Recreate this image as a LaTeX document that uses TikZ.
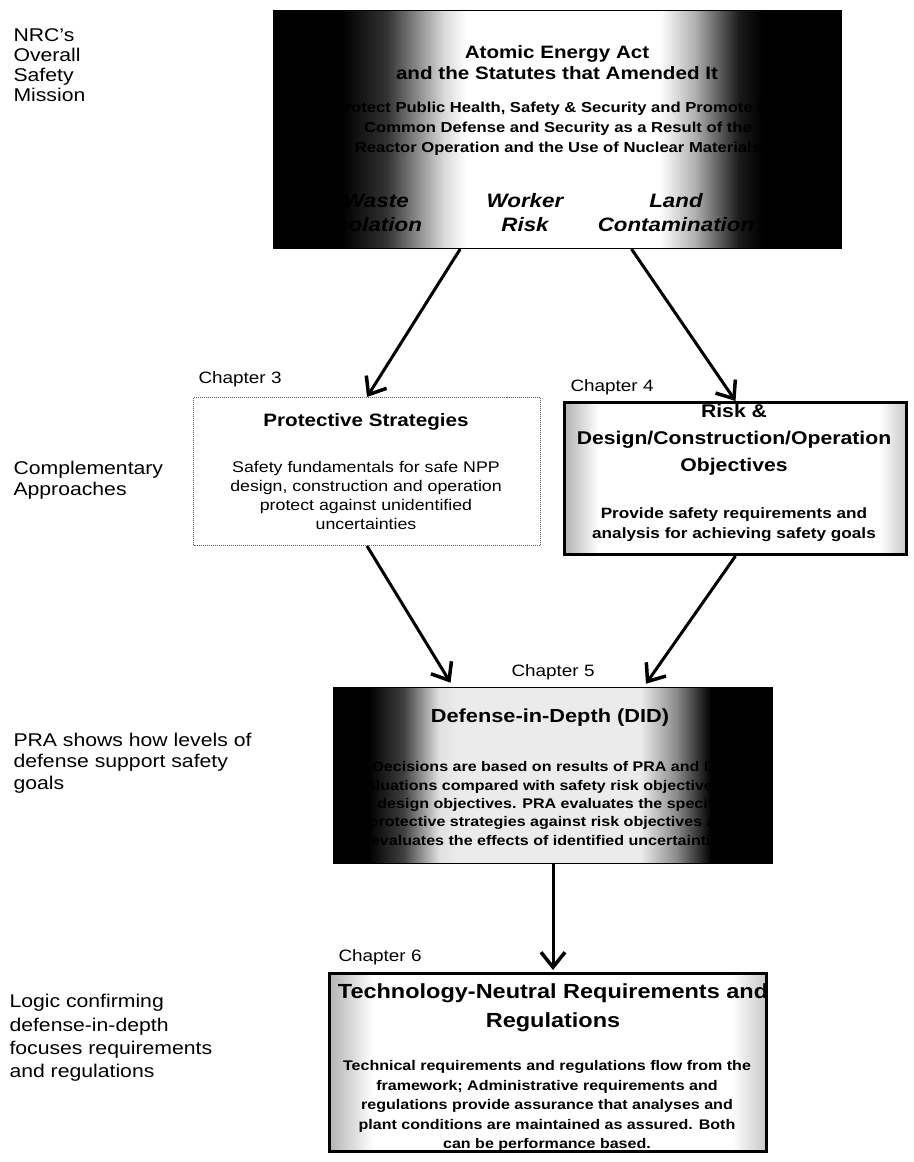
\documentclass[tikz,border=0pt]{standalone}
\usepackage{fontspec}
\setmainfont{Liberation Sans}[FakeStretch=1.15]
\usetikzlibrary{arrows.meta,calc}

% dark at both ends, white in the middle (Atomic Energy Act box)
\pgfdeclarehorizontalshading{darksidesA}{100bp}{color(0bp)=(black); color(31bp)=(black); color(35bp)=(black!80); color(40bp)=(black!15); color(42bp)=(white); color(59bp)=(white); color(62bp)=(black!30); color(66bp)=(black!90); color(68bp)=(black); color(100bp)=(black)}
% same idea for the defense-in-depth box
\pgfdeclarehorizontalshading{darksidesB}{100bp}{color(0bp)=(black); color(29bp)=(black); color(33bp)=(black!75); color(37bp)=(black!12); color(39bp)=(white!92!black); color(60bp)=(white!92!black); color(64bp)=(black!45); color(68bp)=(black); color(100bp)=(black)}
% white box whose left and right edges fade to grey
\pgfdeclarehorizontalshading{greyedges}{100bp}{color(0bp)=(black!30); color(25bp)=(black!30); color(30bp)=(white); color(71bp)=(white); color(75bp)=(black!22); color(100bp)=(black!22)}

\tikzset{
  sidelabel/.style={anchor=west, align=left, font=\fontsize{18.5}{21.5}\selectfont},
  chaplabel/.style={anchor=west, font=\fontsize{16.5}{19}\selectfont},
  darkbox/.style={draw=black, line width=1bp, inner sep=0pt},
  plainbox/.style={draw=black!65, densely dotted, line width=1bp, fill=white, inner sep=0pt},
  heavybox/.style={shading=greyedges, draw=black, line width=3bp, inner sep=0pt},
  boxtitle/.style={align=center, font=\bfseries\fontsize{18}{21}\selectfont},
  boxtext/.style={align=center, font=\bfseries\fontsize{14}{19}\selectfont},
  flow/.style={line width=3bp, -{Straight Barb[length=15bp,width=24bp,line width=3.5bp]}}
}

\begin{document}
\begin{tikzpicture}[x=1bp, y=-1bp]
\useasboundingbox (0,0) rectangle (914,1162);

% left-hand captions
\node[sidelabel, font=\fontsize{18.5}{20}\selectfont] (capmission) at (10,65) {NRC's\\Overall\\Safety\\Mission};
\node[sidelabel] (capapproach) at (10,480) {Complementary\\Approaches};
\node[sidelabel] (capdid) at (10,763) {PRA shows how levels of\\defense support safety\\goals};
\node[sidelabel, font=\fontsize{18.5}{23.5}\selectfont] (caplogic) at (6,1038) {Logic confirming\\defense-in-depth\\focuses requirements\\and regulations};

% Atomic Energy Act box
\node[darkbox, shading=darksidesA, anchor=north west, minimum width=568bp, minimum height=238bp] (aea) at (273,10) {};
\node[boxtitle, font=\bfseries\fontsize{18}{21}\selectfont] (aeatitle) at (557,62.5) {Atomic Energy Act\\and the Statutes that Amended It};
\node[boxtext, font=\bfseries\fontsize{14.5}{20}\selectfont] (aeatext) at (558,129) {Protect Public Health, Safety \& Security and  Promote the\\Common Defense and Security as a Result of the\\Reactor Operation and the Use of Nuclear Materials};
\node[boxtitle, font=\bfseries\itshape\fontsize{19.5}{24}\selectfont] (waste) at (376,213) {Waste\\Isolation};
\node[boxtitle, font=\bfseries\itshape\fontsize{19.5}{24}\selectfont] (worker) at (525,213) {Worker\\Risk};
\node[boxtitle, font=\bfseries\itshape\fontsize{19.5}{24}\selectfont] (land) at (676,213) {Land\\Contamination};

% Chapter 3
\node[plainbox, anchor=north west, minimum width=347bp, minimum height=148bp] (ch3) at (193,397) {};
\node[chaplabel] (ch3lbl) at (195,379) {Chapter 3};
\node[boxtitle] (ch3title) at (366,422) {Protective Strategies};
\node[align=center, font=\fontsize{15.5}{19}\selectfont] (ch3text) at (366,495.5) {Safety fundamentals for safe NPP\\design, construction and operation\\protect against unidentified\\uncertainties};

% Chapter 4
\node[heavybox, anchor=north west, minimum width=342bp, minimum height=152bp] (ch4) at (563,401) {};
\node[chaplabel] (ch4lbl) at (567,387) {Chapter 4};
\node[boxtitle, font=\bfseries\fontsize{18.5}{27}\selectfont] (ch4title) at (734,440) {Risk \&\\Design/Construction/Operation\\Objectives};
\node[boxtext, font=\bfseries\fontsize{15}{20}\selectfont] (ch4text) at (734,525) {Provide safety requirements and\\analysis for achieving safety goals};

% Chapter 5
\node[darkbox, shading=darksidesB, anchor=north west, minimum width=439bp, minimum height=176bp] (did) at (333,687) {};
\node[chaplabel] (didlbl) at (508,672) {Chapter 5};
\node[boxtitle, font=\bfseries\fontsize{19}{22}\selectfont] (didtitle) at (550,718) {Defense-in-Depth (DID)};
\node[boxtext, font=\bfseries\fontsize{14}{18.5}\selectfont] (didtext) at (552,803.5) {Decisions are based on results of PRA and DID\\evaluations compared with safety risk objectives and\\design objectives.  PRA evaluates the specific\\protective strategies against risk objectives and\\evaluates the effects of identified uncertainties.};

% Chapter 6
\node[heavybox, anchor=north west, minimum width=437bp, minimum height=178bp] (ch6) at (328,972) {};
\node[chaplabel] (ch6lbl) at (335,957) {Chapter 6};
\node[boxtitle, font=\bfseries\fontsize{20.5}{29}\selectfont] (ch6title) at (553,1007.5) {Technology-Neutral Requirements and\\Regulations};
\node[boxtext, font=\bfseries\fontsize{14}{19.5}\selectfont] (ch6text) at (547,1106) {Technical requirements and regulations flow from the\\framework; Administrative requirements and\\regulations provide assurance that analyses and\\plant conditions are maintained as assured.  Both\\can be performance based.};

% connectors
\draw[flow] ($(aea.south west)!0.329!(aea.south east)$) -- (ch3.north);
\draw[flow] ($(aea.south west)!0.63!(aea.south east)$) -- (ch4.north);
\draw[flow, shorten >=5bp] (ch3.south) -- ($(did.north west)!0.273!(did.north east)$);
\draw[flow, shorten >=4bp] (ch4.south) -- ($(did.north west)!0.706!(did.north east)$);
\draw[flow, shorten >=2bp] (did.south) -- (did.south |- ch6.north);
\end{tikzpicture}
\end{document}
